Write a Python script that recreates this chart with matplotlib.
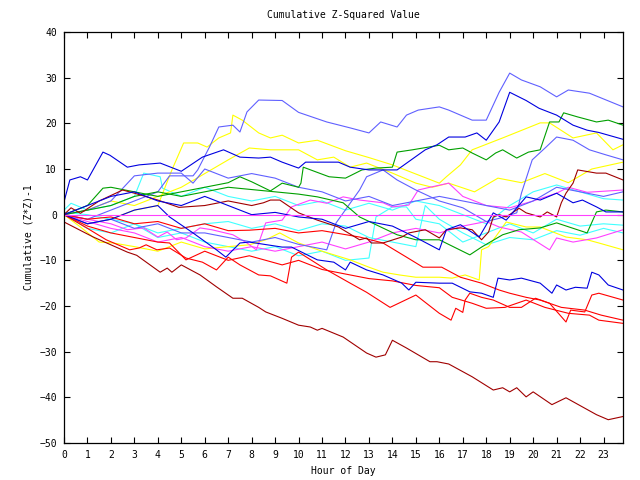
import matplotlib
matplotlib.use("Agg")
import matplotlib.pyplot as plt

# hour of day / cumulative (Z*Z)-1
lb_top_h = [0, 1, 2, 3, 4, 4.5, 5.5, 5.7, 6.2, 6.6, 7.2, 7.5, 7.8, 8.3, 9.3, 10, 11.2, 12.2, 13, 13.5,
            14.2, 14.6, 15.1, 16, 16.4, 17.4, 18, 18.55, 19, 19.5, 20.3, 21, 21.5, 22.4, 23.83]
lb_top_v = [0, -1, 1, 3, 5, 8.5, 8.5, 9.8, 14.8, 19.2, 19.6, 18.1, 22.5, 25.1, 25, 22.4, 20.3, 19, 17.9, 20.3,
            19.2, 21.8, 22.9, 23.6, 22.9, 20.7, 20.7, 26.8, 31, 29.5, 28, 25.8, 27.3, 26.6, 23.6]

blue_peak_h = [0, 0.25, 0.7, 1, 1.66, 1.96, 2.7, 3.2, 4.1, 5, 5.9, 6.8, 7.5, 8.3, 8.8, 9.3, 10, 10.3, 11.7,
               12.2, 13, 14.2, 15.4, 15.9, 16.4, 17.1, 17.6, 18, 18.55, 19, 19.7, 20.25, 21, 21.7, 22.3,
               22.8, 23.83]
blue_peak_v = [2.8, 7.6, 8.3, 7.6, 13.7, 13, 10.4, 10.9, 11.3, 9.5, 12.6, 14.2, 12.6, 12.4, 12.6, 11.5, 10.2,
               11.5, 11.5, 10.4, 9.8, 9.8, 14.2, 15.3, 17, 17, 17.9, 16.3, 20.3, 26.8, 25, 23.3, 21.8, 19.6,
               18.5, 18, 16.5]

green_top_h = [0, 1, 1.66, 2, 3, 4, 5, 6, 7, 7.5, 8, 8.8, 9.3, 10, 10.1, 10.2, 11.3, 12, 12.7, 13.3, 14,
               14.2, 14.85, 16, 16.4, 17, 17.4, 18, 18.4, 18.7, 19.3, 19.8, 20.3, 20.7, 21.1, 21.3, 21.9,
               22.7, 23.2, 23.83]
green_top_v = [0, 2, 5.8, 6, 5, 4, 5, 6, 7, 8.3, 7.2, 5.2, 6.9, 6, 6.9, 10.4, 8.3, 8, 9.8, 10.2, 10.4,
               13.7, 14.2, 15.2, 14.2, 14.6, 13.5, 12, 13.5, 14.2, 12.4, 13.7, 14.2, 20.3, 20.3, 22.3, 21.4,
               20.3, 20.7, 19.6]

yellow_top_h = [0, 1, 2, 3, 4, 4.6, 5.1, 5.7, 6.1, 6.6, 7.1, 7.2, 7.6, 8.3, 8.8, 9.3, 10, 10.8, 12, 13,
                14, 15.3, 16, 16.3, 16.9, 17.4, 17.6, 18.7, 20.3, 20.7, 21.7, 22.7, 23.4, 23.83]
yellow_top_v = [0, -2, -1, 1, 2, 9.8, 15.7, 15.7, 14.8, 16.8, 17.9, 21.8, 20.7, 17.9, 16.8, 17.4, 15.7,
                16.3, 14, 12.5, 10.9, 8.3, 6.9, 8.3, 10.9, 14.2, 14.6, 16.8, 20.1, 20.1, 16.8, 17.9, 14.2,
                15.3]

yellow_mid_h = [0, 1, 2, 3, 4, 5, 6, 7, 7.9, 8.8, 10, 10.8, 11.5, 12.2, 12.9, 14, 15, 15.7, 16.4, 17.5,
                18.5, 19.5, 20.5, 21.5, 22.5, 23.83]
yellow_mid_v = [0, 1, 3, 2, 4, 6, 9, 12, 14.6, 14.2, 14.2, 12, 12.6, 10.4, 11.3, 9.1, 6.9, 6, 6.9, 5,
                8, 7, 9, 7, 10, 11.5]

yellow_low_h = [0, 0.7, 1.5, 2.1, 3, 4, 5, 6, 7, 7.9, 8.6, 9.2, 10, 11, 12.2, 13, 13.6, 14.3, 15, 16,
                16.55, 17.1, 17.7, 17.8, 18.1, 18.85, 19.7, 20.3, 21.4, 22.3, 22.8, 23.83]
yellow_low_v = [0, -2.7, -6, -6.2, -7, -8, -6, -7.5, -7, -6.6, -5.5, -4, -6.2, -8, -9.9, -11.5, -12.6,
                -13.2, -13.7, -13.7, -13.9, -13.2, -14.3, -7.7, -7, -1.6, -2.7, -2.7, -4.9, -5.5, -6.2, -7.7]

blue_low_h = [0, 1, 2, 3, 4, 4.5, 5.5, 6.5, 6.9, 7.5, 7.9, 9.3, 9.7, 10.8, 11.5, 12, 12.2, 12.9, 13.6,
              14.4, 14.7, 15, 16, 16.55, 17.3, 17.8, 18.3, 18.5, 19, 19.5, 20.3, 20.8, 21, 21.4, 21.8,
              22.3, 22.5, 22.8, 23.2, 23.83]
blue_low_v = [0, -2, -1, 1, 2, -0.5, -4, -7.7, -9.3, -6.2, -6, -7.1, -7.1, -9.9, -10.4, -12.1, -10.4,
              -12.1, -13.2, -15, -16.5, -14.8, -15, -15, -16.9, -17.2, -18.1, -13.9, -14.3, -13.9, -15,
              -17.2, -15.4, -16.5, -15.9, -16.1, -12.6, -13.2, -15.4, -16.5]

blue_mid_h = [0, 1, 2, 3, 4, 5, 6, 7, 8, 9, 10, 11, 12, 13, 14, 15, 16, 16.3, 16.9, 17.7, 18.3, 18.85,
              19.7, 20.3, 21, 21.7, 22.1, 22.7, 23.1, 23.83]
blue_mid_v = [0, 2, 4, 5, 3, 2, 4, 2, 0, 0.5, -0.5, -1, -3, -1.5, -2.5, -5, -7.7, -3.3, -2.2, -4.9, 0.4,
              -1.2, 3.9, 3.2, 4.7, 2.6, 3.2, 1.7, 0.6, 0.6]

dred_mid_h = [0, 0.3, 0.7, 1.5, 2.5, 3, 4, 4.9, 6, 7, 8, 8.5, 8.8, 9.2, 10, 10.8, 11.7, 12.6, 12.9, 13.1,
              13.6, 14.4, 14.7, 15.4, 16, 16.3, 16.9, 17.4, 17.8, 18.1, 18.3, 18.55, 18.85, 19.4, 19.7,
              20.3, 20.6, 21, 21.2, 21.4, 21.7, 21.9, 22.7, 23.1, 23.83]
dred_mid_v = [0, 1.5, 0.3, 3, 5.4, 4.7, 3.2, 1.6, 2, 3, 2, 2.6, 3.2, 3.2, 0.4, -1.2, -2.7, -5.5, -5.1,
              -6.2, -6.2, -4.9, -4, -3.3, -5.1, -3.3, -2.9, -3.3, -5.5, -3.8, -0.5, 0, -0.5, 1.4, 0.4,
              -0.5, 0.6, -0.5, 2.6, 4.7, 6.9, 9.8, 9.1, 9.1, 7.6]

dred_low_h = [0, 1.25, 2.7, 3.1, 4.1, 4.4, 4.6, 5, 5.8, 6.5, 7.2, 7.6, 8.3, 8.6, 9.3, 10, 10.5, 10.8, 11,
              11.9, 12.9, 13.3, 13.7, 14, 14.6, 15.6, 15.9, 16.4, 17.4, 18.3, 18.7, 19, 19.3, 19.7, 20,
              20.8, 21.4, 22.7, 23.2, 23.83]
dred_low_v = [-1.6, -4.9, -8.2, -8.9, -12.6, -11.7, -12.6, -11, -13.2, -15.8, -18.3, -18.3, -20.3, -21.3,
              -22.7, -24.2, -24.6, -25.3, -24.9, -26.8, -30.3, -31.2, -30.7, -27.5, -29.2, -32.2, -32.2,
              -32.7, -35.5, -38.4, -37.9, -38.8, -37.9, -39.9, -38.8, -41.6, -40.1, -43.8, -44.9, -44.2]

red_a_h = [0, 1, 1.8, 2.8, 3.2, 3.5, 3.96, 4.5, 5.2, 5.9, 6.5, 7, 7.5, 8.3, 8.8, 9.5, 9.7, 10, 11.2, 12.2,
           12.9, 13.9, 15, 16, 16.5, 16.7, 17, 17.1, 17.3, 17.8, 18.3, 19, 19.5, 20.1, 20.7, 21.4, 21.6,
           22.2, 22.5, 22.8, 23.83]
red_a_v = [0, -3, -5.5, -7.7, -7.3, -6.6, -7.7, -7.3, -9.5, -10.4, -12.1, -9.3, -11, -13.2, -13.4, -15,
           -9.3, -8.2, -12.1, -15, -17, -20.3, -17.6, -21.6, -23.1, -20.5, -21.4, -18.7, -17.2, -18.1,
           -18.7, -20.3, -20.3, -18.3, -19.4, -23.5, -20.9, -21.3, -17.6, -17.2, -18.7]

red_b_h = [0, 1, 2, 3, 4, 5, 6, 7, 7.9, 9, 10, 11, 12.6, 13.6, 14.6, 15.3, 16.1, 16.9, 17.8, 18.55, 19,
           19.7, 20.3, 21.2, 22.2, 22.9, 23.83]
red_b_v = [0, -1, -0.5, -2, -1.5, -3, -2, -3.5, -3.4, -3, -4, -3.5, -4.9, -6.2, -9.3, -11.5, -11.5, -13.7,
           -15, -16.5, -17.2, -18.1, -18.7, -20.3, -20.9, -22, -23.1]

red_c_h = [0, 1, 2, 3, 4, 4.5, 5.2, 6, 7, 7.9, 8.6, 9.3, 10, 11, 12, 13, 14, 15, 16, 16.55, 17.4, 18,
           18.8, 19.7, 20.5, 21.5, 22.4, 22.8, 23.83]
red_c_v = [0, -2.5, -4, -5, -6, -6.2, -9.9, -8, -10, -9, -10, -11, -10, -12, -13, -14, -14.5, -15.5, -16,
           -18.1, -19.4, -20.5, -20.3, -18.7, -20.3, -21.6, -22, -23.1, -23.8]

mag_a_h = [0, 1, 2, 2.7, 3.4, 4, 4.4, 4.8, 5.2, 5.8, 6.3, 7.2, 7.8, 8.2, 8.6, 9.3, 9.7, 10.5, 11.2, 11.9,
           12.6, 13.6, 14, 14.7, 15.1, 15.6, 16.4, 17, 18, 19, 20, 21, 21.5, 22.3, 23.83]
mag_a_v = [0, -1, -2, -3.3, -2.9, -4.9, -3.8, -5.5, -5.1, -2.9, -3.3, -4.4, -6.2, -7.7, -1.8, -1.2, 1.7,
           3.2, 2.5, 3.9, 3.2, 2.6, 1.7, 2.1, 5.4, 6, 6.9, 4, 2, 1.5, 3, 4.7, 6, 4.9, 5.4]

mag_b_h = [0, 1, 2, 3, 4, 5, 6, 7, 8, 9, 10, 11, 12, 13, 14, 15, 16, 17, 18, 18.55, 19.5, 20.7, 21, 21.7,
           22.7, 23.83]
mag_b_v = [0, -1.5, -3, -4, -6, -5, -7, -8, -7, -8, -7, -6, -7.5, -6, -4, -3, -4, -2.5, -1.5, -2.7, -3.8,
           -7.7, -5.1, -6, -5.1, -3.3]

cyan_a_h = [0, 0.3, 1, 2, 3, 3.4, 4.1, 4.2, 5, 6, 7, 8, 9, 10, 11, 12, 13, 14, 15, 16, 17, 18, 19, 20,
            21, 22, 23, 23.83]
cyan_a_v = [1, 2.5, 1, 2, 4, 9.1, 8.3, 5.8, 4, 6, 4, 3, 4, 2, 3, 1, 2.5, 1, 3, 2, 0, -2, 2, 5, 6.5, 5,
            3.5, 3.2]

cyan_b_h = [0, 1, 2, 3, 4, 5, 6, 7, 8, 9, 10, 11, 12, 13, 13.3, 14, 14.6, 15, 16, 17, 18, 19, 20, 21,
            22, 23, 23.83]
cyan_b_v = [0, -3, -4, -2, -5, -4, -6, -7, -8, -7, -9, -8, -10, -9.5, -0.5, 1.7, 1.7, -1, -2, -6, -4,
            -2, -4, -1, -2.5, -2, -2.3]

cyan_c_h = [0, 1, 2, 3, 4, 5, 6, 7, 8, 9, 10, 11, 12, 13, 14, 15, 15.4, 16, 17, 18, 19, 20, 21, 22, 23,
            23.83]
cyan_c_v = [0.5, 0, -1, -2, -4, -3, -2, -1.5, -3, -2, -3.5, -2, -2.5, -5, -6, -7, 2, -1, -4, -6.6, -5,
            -5.5, -3.5, -4.5, -3, -4]

lb_mid_h = [0, 1, 2, 3, 4, 5, 6, 7, 8, 9, 10, 11.2, 11.6, 12.6, 12.9, 13.6, 14.2, 15, 16, 17, 18, 18.55,
            19.3, 19.5, 19.96, 20.55, 21, 21.7, 22.4, 23.1, 23.83]
lb_mid_v = [0, -2, -1, -3, -2, -4, -4, -5, -6, -5, -6.5, -7.7, -1.8, 5.4, 8.3, 9.8, 7.6, 5.4, 3, 1.5,
            -1.5, -0.8, 0.4, 4.7, 12, 14.8, 17, 16.3, 14.2, 13.1, 12]

lb_low_h = [0, 1, 2, 3, 4, 5, 5.5, 6, 7, 8, 9, 10, 11, 12, 13, 14, 15, 16, 17, 18, 19, 20, 21, 22, 23,
            23.83]
lb_low_v = [0, 1, 3, 8.5, 9.1, 9.1, 6.9, 10, 8, 9, 8, 6, 5, 3, 4, 2, 3, 4, 3, 2, 1, 3, 6, 5, 4, 5]

green_low_h = [0, 1, 2, 3, 4, 5, 6, 7, 8, 9, 10, 10.8, 11.9, 12.6, 14.2, 15, 15.4, 16, 17.3, 17.8, 18.7,
               19.4, 20.3, 21, 22.3, 22.7, 23.1, 23.83]
green_low_v = [0, 1, 2, 4, 5, 4, 5, 6, 5.5, 5, 4.5, 3.9, 2.6, -0.5, -4.4, -5.5, -5.5, -5.5, -8.8, -7.1,
               -4.4, -3.3, -2.9, -1.8, -4, 0.6, 1, 0.6]

zero_h = [0, 23.83]
zero_v = [0, 0]

RED = '#ff0000'
DRED = '#a00000'
GREEN = '#00a000'
BLUE = '#0000e0'
LBLUE = '#6060ff'
YELLOW = '#ffff00'
CYAN = '#40ffff'
MAGENTA = '#ff40ff'

series = [
    (cyan_a_h, cyan_a_v, CYAN),
    (cyan_b_h, cyan_b_v, CYAN),
    (cyan_c_h, cyan_c_v, CYAN),
    (yellow_top_h, yellow_top_v, YELLOW),
    (yellow_mid_h, yellow_mid_v, YELLOW),
    (yellow_low_h, yellow_low_v, YELLOW),
    (mag_a_h, mag_a_v, MAGENTA),
    (mag_b_h, mag_b_v, MAGENTA),
    (lb_top_h, lb_top_v, LBLUE),
    (lb_mid_h, lb_mid_v, LBLUE),
    (lb_low_h, lb_low_v, LBLUE),
    (green_top_h, green_top_v, GREEN),
    (green_low_h, green_low_v, GREEN),
    (red_a_h, red_a_v, RED),
    (red_b_h, red_b_v, RED),
    (red_c_h, red_c_v, RED),
    (dred_mid_h, dred_mid_v, DRED),
    (dred_low_h, dred_low_v, DRED),
    (blue_peak_h, blue_peak_v, BLUE),
    (blue_mid_h, blue_mid_v, BLUE),
    (blue_low_h, blue_low_v, BLUE),
    (zero_h, zero_v, MAGENTA),
]

plt.rcParams['font.family'] = ['DejaVu Sans Mono']
plt.rcParams['font.size'] = 7

fig = plt.figure(figsize=(6.4, 4.8), dpi=100, facecolor='white')
ax = fig.add_axes([64 / 640, 37 / 480, 559 / 640, 411 / 480])

for h, v, c in series:
    ax.plot(h, v, color=c, lw=0.8)

ax.set_xlim(0, 23.83)
ax.set_ylim(-50, 40)
ax.set_xticks(range(0, 24))
ax.set_yticks(range(-50, 41, 10))
ax.tick_params(direction='in', length=4.5, width=0.8, top=True, right=True, pad=5)
for s in ax.spines.values():
    s.set_linewidth(0.9)

ax.set_title('Cumulative Z-Squared Value', fontsize=7, pad=10)
ax.set_xlabel('Hour of Day', labelpad=4)
ax.set_ylabel('Cumulative (Z*Z)-1', labelpad=4)

fig.savefig('out.png', dpi=100, facecolor='white')
